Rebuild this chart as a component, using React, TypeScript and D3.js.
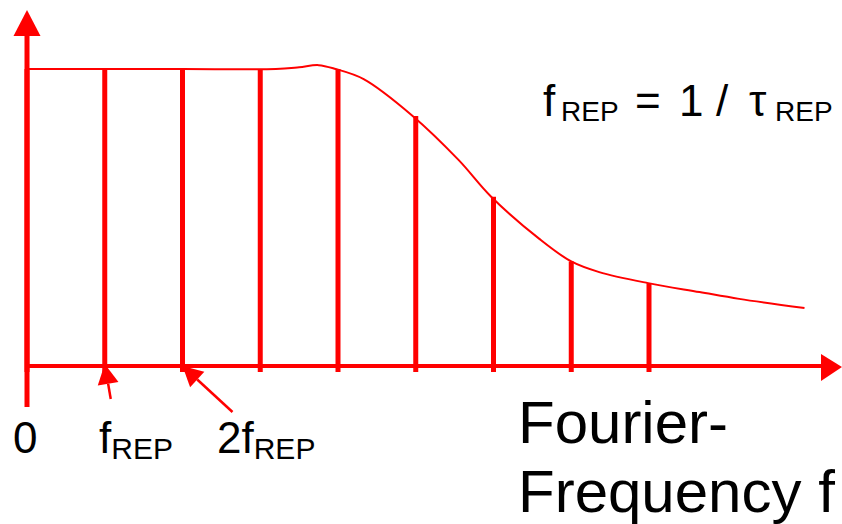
import React from "react";
import * as d3 from "d3";

// Comb lines of the pulse-train spectrum: harmonic index n (in units of f_REP) and relative amplitude
const harmonics = [0, 1, 2, 3, 4, 5, 6, 7, 8];
const amplitudes = [1, 1, 1, 1, 1, 0.842, 0.57, 0.352, 0.279];

// Spectral envelope: frequency (units of f_REP) and relative amplitude
const envFreq = [0, 1, 2, 3.2, 3.5, 3.75, 3.97, 4.33, 4.96, 5.55, 5.97, 6.59, 7.0, 7.36, 7.99, 8.65, 9.16, 10.0];
const envAmp = [1, 1, 1, 1, 1.006, 1.013, 1.0, 0.966, 0.842, 0.694, 0.57, 0.428, 0.352, 0.316, 0.279, 0.249, 0.226, 0.195];

// Axis labels
const tickLabels = [
  { n: 0, main: "0", sub: "" },
  { n: 1, main: "f", sub: "REP" },
  { n: 2, main: "2f", sub: "REP" },
];

const W = 842;
const H = 524;
const RED = "#ff0000";
const FONT = "'Liberation Sans', Arial, Helvetica, sans-serif";

export default function App() {
  const x = d3.scaleLinear().domain([0, 8]).range([27, 649]);
  const y = d3.scaleLinear().domain([0, 1]).range([366, 69]);

  const env = envFreq.map((f, i) => [f, envAmp[i]] as [number, number]);
  const envPath = d3
    .line<[number, number]>()
    .x((d) => x(d[0]))
    .y((d) => y(d[1]))
    .curve(d3.curveCatmullRom.alpha(0.5))(env) as string;

  const x0 = x(0);
  const yAxisTop = 10;
  const xAxisEnd = 842;
  const yBase = y(0);

  // small pointer arrows from labels up to the comb positions
  const pointer = (tipX: number, tipY: number, tailX: number, tailY: number, head = 20, half = 10.5) => {
    const dx = tailX - tipX;
    const dy = tailY - tipY;
    const len = Math.hypot(dx, dy);
    const ux = dx / len;
    const uy = dy / len;
    const bx = tipX + ux * head;
    const by = tipY + uy * head;
    const px = -uy * half;
    const py = ux * half;
    return (
      <g>
        <line x1={bx} y1={by} x2={tailX} y2={tailY} stroke={RED} strokeWidth={2.5} />
        <polygon points={`${tipX},${tipY} ${bx + px},${by + py} ${bx - px},${by - py}`} fill={RED} />
      </g>
    );
  };

  const labelPos: Record<number, number> = { 0: 13, 1: 99, 2: 217 };

  return (
    <svg
      width={W}
      height={H}
      style={{ position: "absolute", left: 0, top: 0, background: "#fff" }}
      fontFamily={FONT}
    >
      {/* envelope */}
      <path d={envPath} fill="none" stroke={RED} strokeWidth={2} />

      {/* comb lines */}
      {harmonics.map((n, i) => (
        <line
          key={n}
          x1={x(n)}
          x2={x(n)}
          y1={yBase + 6}
          y2={y(amplitudes[i])}
          stroke={RED}
          strokeWidth={5}
        />
      ))}

      {/* y axis with arrow */}
      <line x1={x0} x2={x0} y1={407} y2={yAxisTop + 22} stroke={RED} strokeWidth={5} />
      <polygon points={`${x0},${yAxisTop} ${x0 - 13.5},${yAxisTop + 26} ${x0 + 13.5},${yAxisTop + 26}`} fill={RED} />

      {/* x axis with arrow */}
      <line x1={x0} x2={xAxisEnd - 18} y1={yBase} y2={yBase} stroke={RED} strokeWidth={4} />
      <polygon
        points={`${xAxisEnd},${yBase + 1} ${xAxisEnd - 21},${yBase - 12} ${xAxisEnd - 21},${yBase + 15}`}
        fill={RED}
      />

      {/* label pointers */}
      {pointer(x(1), yBase - 2, x(1) + 6, yBase + 33)}
      {pointer(x(2), yBase, x(2) + 50, yBase + 46)}

      {/* tick labels */}
      {tickLabels.map((t) => (
        <text key={t.n} x={labelPos[t.n]} y={453} fontSize={44} fill="#000">
          {t.main}
          {t.sub && (
            <tspan fontSize={30} dy={6}>
              {t.sub}
            </tspan>
          )}
        </text>
      ))}

      {/* axis title */}
      <text x={518} y={443} fontSize={60} fill="#000">
        Fourier-
      </text>
      <text x={518} y={512} fontSize={60} fill="#000">
        Frequency f
      </text>

      {/* relation between repetition rate and period */}
      <g fill="#000">
        <text x={543} y={116} fontSize={44}>f</text>
        <text x={561} y={121} fontSize={28}>REP</text>
        <text x={635} y={116} fontSize={44}>=</text>
        <text x={679} y={116} fontSize={44}>1</text>
        <text x={716} y={116} fontSize={44}>/</text>
        <text x={749} y={116} fontSize={44}>τ</text>
        <text x={775} y={121} fontSize={28}>REP</text>
      </g>
    </svg>
  );
}
